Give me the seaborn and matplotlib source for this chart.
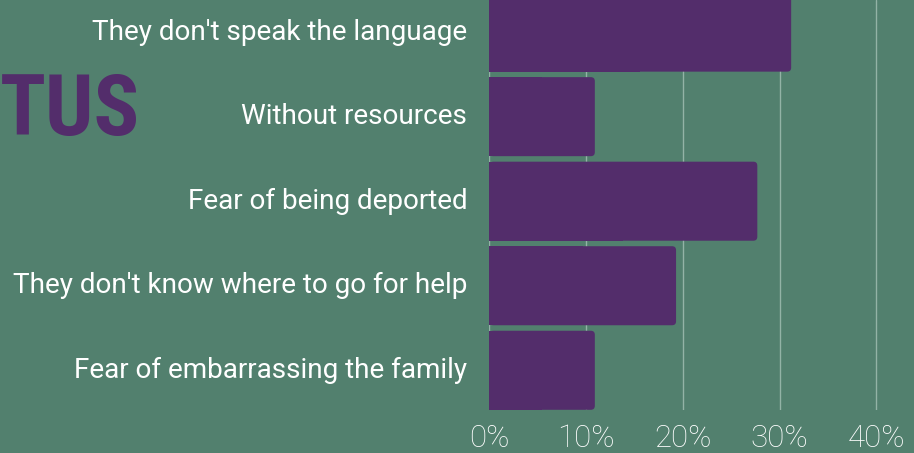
import matplotlib
matplotlib.use("Agg")
import matplotlib.pyplot as plt
from matplotlib.patches import FancyBboxPatch, Rectangle
from matplotlib import font_manager
import seaborn as sns
import pandas as pd

categories = [
    "They don't speak the language",
    "Without resources",
    "Fear of being deported",
    "They don't know where to go for help",
    "Fear of embarrassing the family",
]
values = [31.2, 10.9, 27.7, 19.3, 10.9]
xticks = [0, 10, 20, 30, 40]
xtick_labels = ["0%", "10%", "20%", "30%", "40%"]

BG = "#52806e"
BAR = "#532d6b"
GRID = "#93b3a6"

sns.set_theme(style="white")
plt.rcParams["font.family"] = ["Roboto", "DejaVu Sans"]

names = {f.name for f in font_manager.fontManager.ttflist}
cands = ["Roboto Condensed", "Liberation Sans Narrow", "DejaVu Sans Condensed",
         "Noto Sans Condensed", "Open Sans Condensed"]
narrow = next((c for c in cands if c in names), None)

df = pd.DataFrame({"reason": categories, "pct": values})

W, H = 914, 453
fig = plt.figure(figsize=(W / 100, H / 100), dpi=100)
fig.patch.set_facecolor(BG)
x0px, x1px, ybot = 489.4, 914, 410
ax = fig.add_axes([x0px / W, (H - ybot) / H, (x1px - x0px) / W, ybot / H])
ax.set_facecolor(BG)

sns.barplot(data=df, x="pct", y="reason", orient="h", color=BAR,
            width=0.935, saturation=1, ax=ax, zorder=3)

ax.set_xlim(0, 43.9)
ax.set_ylim(4.47, -0.38)
ax.set_xticks(xticks)
ax.set_xticklabels(xtick_labels)
ax.set_xlabel("")
ax.set_ylabel("")
for s in ax.spines.values():
    s.set_visible(False)
ax.grid(False)
for xv in xticks:
    ax.axvline(xv, color=GRID, lw=1.0, zorder=1)

ax.tick_params(axis="both", length=0, colors="white")
ax.tick_params(axis="x", pad=10, labelsize=22.5)
ax.tick_params(axis="y", pad=16, labelsize=20.1)
for t in ax.get_xticklabels():
    t.set_color("white")
    t.set_fontweight("light")
for t in ax.get_yticklabels():
    t.set_color("white")
    t.set_fontweight("normal")
    t.set_verticalalignment("center")

# rounded right ends
rx = 4 / 9.67
ry = 4 / 84.5
for p in list(ax.patches):
    px, py, pw, ph = p.get_x(), p.get_y(), p.get_width(), p.get_height()
    p.set_visible(False)
    fb = FancyBboxPatch((px, py), pw, ph,
                        boxstyle=f"round,pad=0,rounding_size={rx}",
                        mutation_aspect=ry / rx, fc=BAR, ec="none", zorder=3,
                        clip_on=False)
    ax.add_patch(fb)
    ax.add_patch(Rectangle((px, py), pw / 2, ph, fc=BAR, ec="none", zorder=3,
                           clip_on=False))

if narrow:
    fig.text(0, 1 - 111 / H, "TUS", color=BAR, fontsize=61, fontweight="bold",
             family=[narrow], ha="left", va="center")
else:
    fig.text(0, 1 - 111 / H, "TUS", color=BAR, fontsize=50, fontweight="bold",
             family=["Roboto"], ha="left", va="center")

fig.savefig("out.png", dpi=100, facecolor=BG)
